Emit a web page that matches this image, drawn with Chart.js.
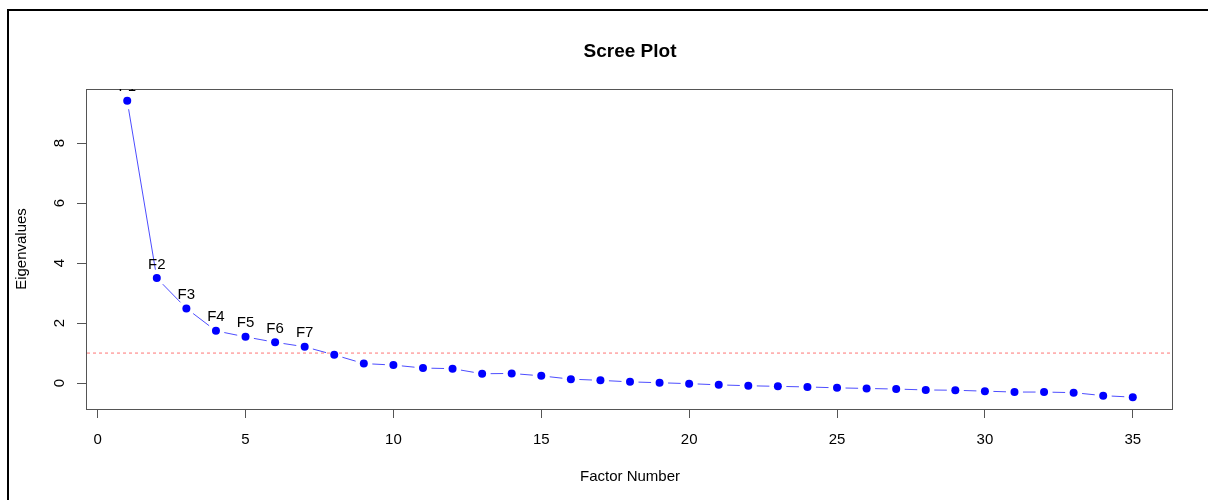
<!DOCTYPE html>
<html>
<head>
<meta charset="utf-8">
<title>Scree Plot</title>
<script src="https://cdn.jsdelivr.net/npm/chart.js@4.4.1/dist/chart.umd.min.js"></script>
<style>
  html, body { margin: 0; padding: 0; background: #fff; overflow: hidden; }
  #wrap { position: relative; width: 1208px; height: 500px; overflow: hidden; }
  #moldura { position: absolute; left: 7px; top: 9px; width: 1300px; height: 600px; border: 2px solid #000; }
  #grafico { position: absolute; left: 0; top: 0; }
</style>
</head>
<body>
<div id="wrap">
  <div id="moldura"></div>
  <canvas id="grafico" width="1208" height="500"></canvas>
</div>
<script>
const fatores = [1, 2, 3, 4, 5, 6, 7, 8, 9, 10, 11, 12, 13, 14, 15, 16, 17, 18,
  19, 20, 21, 22, 23, 24, 25, 26, 27, 28, 29, 30, 31, 32, 33, 34, 35];
const autovalores = [9.41, 3.50, 2.49, 1.74, 1.54, 1.36, 1.21, 0.94, 0.65, 0.60,
  0.50, 0.48, 0.31, 0.32, 0.24, 0.13, 0.09, 0.04, 0.01, -0.02, -0.06, -0.09,
  -0.11, -0.13, -0.16, -0.18, -0.20, -0.23, -0.24, -0.27, -0.30, -0.30, -0.32,
  -0.42, -0.47];
const rotulos = ["F1", "F2", "F3", "F4", "F5", "F6", "F7"];
const ticksX = [0, 5, 10, 15, 20, 25, 30, 35];
const ticksY = [0, 2, 4, 6, 8];
const linhaCorte = 1;
const titulo = "Scree Plot";

// limites como no R (faixa dos dados + 4%)
const faixaX = Math.max(...fatores) - Math.min(...fatores);
const xMin = Math.min(...fatores) - 0.04 * faixaX;
const xMax = Math.max(...fatores) + 0.04 * faixaX;
const faixaY = Math.max(...autovalores) - Math.min(...autovalores);
const yMin = Math.min(...autovalores) - 0.04 * faixaY;
const yMax = Math.max(...autovalores) + 0.04 * faixaY;

const fonte = "'Liberation Sans', Arial, sans-serif";
Chart.defaults.font.family = fonte;

const pluginCaixa = {
  id: "caixa",
  beforeDatasetsDraw(chart) {
    const { ctx, chartArea: a } = chart;
    ctx.save();
    ctx.strokeStyle = "#555";
    ctx.lineWidth = 1;
    ctx.strokeRect(Math.round(a.left) - 0.5, Math.round(a.top) + 0.5,
      Math.round(a.right - a.left), Math.round(a.bottom - a.top));
    ctx.restore();
  },
};

// título centrado na área do gráfico, como no R
const pluginTitulo = {
  id: "titulo",
  afterDraw(chart) {
    const { ctx, chartArea: a } = chart;
    ctx.save();
    ctx.fillStyle = "#000";
    ctx.font = "bold 19px " + fonte;
    ctx.textAlign = "center";
    ctx.textBaseline = "alphabetic";
    ctx.fillText(titulo, (a.left + a.right) / 2, a.top - 32);
    ctx.restore();
  },
};

// linhas com espaço em volta dos pontos (type = "b")
const pluginLinhas = {
  id: "linhas",
  beforeDatasetsDraw(chart) {
    const pts = chart.getDatasetMeta(0).data;
    const ctx = chart.ctx;
    const gap = 8.5;
    ctx.save();
    ctx.strokeStyle = "rgba(0,0,255,0.7)";
    ctx.lineWidth = 1;
    ctx.beginPath();
    for (let i = 0; i < pts.length - 1; i++) {
      const p = pts[i];
      const q = pts[i + 1];
      const dx = q.x - p.x;
      const dy = q.y - p.y;
      const len = Math.hypot(dx, dy);
      if (len <= 2 * gap) continue;
      const ux = dx / len;
      const uy = dy / len;
      ctx.moveTo(p.x + ux * gap, p.y + uy * gap);
      ctx.lineTo(q.x - ux * gap, q.y - uy * gap);
    }
    ctx.stroke();
    ctx.restore();
  },
};

const pluginRotulos = {
  id: "rotulos",
  afterDatasetsDraw(chart) {
    const pts = chart.getDatasetMeta(0).data;
    const { ctx, chartArea: a } = chart;
    ctx.save();
    ctx.beginPath();
    ctx.rect(a.left, a.top, a.right - a.left, a.bottom - a.top);
    ctx.clip();
    ctx.fillStyle = "#000";
    ctx.font = "15px " + fonte;
    ctx.textAlign = "center";
    ctx.textBaseline = "alphabetic";
    rotulos.forEach((r, i) => {
      ctx.fillText(r, pts[i].x, pts[i].y - 9.5);
    });
    ctx.restore();
  },
};

// rótulos do eixo y na vertical, como no R
const pluginTicksY = {
  id: "ticksY",
  afterDraw(chart) {
    const escala = chart.scales.y;
    const ctx = chart.ctx;
    const xBase = chart.chartArea.left - 23;
    ctx.save();
    ctx.fillStyle = "#000";
    ctx.font = "15px " + fonte;
    ctx.textAlign = "center";
    ctx.textBaseline = "alphabetic";
    ticksY.forEach((v) => {
      ctx.save();
      ctx.translate(xBase, escala.getPixelForValue(v));
      ctx.rotate(-Math.PI / 2);
      ctx.fillText(String(v), 0, 0);
      ctx.restore();
    });
    ctx.restore();
  },
};

new Chart(document.getElementById("grafico"), {
  type: "line",
  data: {
    datasets: [
      {
        label: "Eigenvalues",
        data: fatores.map((f, i) => ({ x: f, y: autovalores[i] })),
        showLine: false,
        pointRadius: 4,
        pointHoverRadius: 4,
        pointBorderWidth: 0,
        pointBackgroundColor: "#0000ff",
        borderColor: "#0000ff",
      },
      {
        label: "Corte",
        data: [
          { x: xMin, y: linhaCorte },
          { x: xMax, y: linhaCorte },
        ],
        borderColor: "rgba(255,60,60,0.7)",
        borderWidth: 1,
        borderDash: [3, 3],
        pointRadius: 0,
      },
    ],
  },
  options: {
    responsive: false,
    animation: false,
    layout: {
      padding: { left: 0, right: 35, top: 89, bottom: 0 },
    },
    plugins: {
      legend: { display: false },
      tooltip: { enabled: false },
      title: { display: false },
    },
    scales: {
      x: {
        type: "linear",
        min: xMin,
        max: xMax,
        afterBuildTicks: (s) => {
          s.ticks = ticksX.map((v) => ({ value: v }));
        },
        afterFit: (s) => {
          s.height = 91;
        },
        grid: {
          drawOnChartArea: false,
          drawTicks: true,
          tickLength: 9,
          color: "#555",
        },
        border: { display: false },
        ticks: {
          color: "#000",
          font: { size: 15 },
          padding: 13,
          maxRotation: 0,
          autoSkip: false,
        },
        title: {
          display: true,
          text: "Factor Number",
          color: "#000",
          font: { size: 15 },
          padding: { top: 0, bottom: 14 },
        },
      },
      y: {
        type: "linear",
        min: yMin,
        max: yMax,
        afterBuildTicks: (s) => {
          s.ticks = ticksY.map((v) => ({ value: v }));
        },
        afterFit: (s) => {
          s.width = 87;
        },
        grid: {
          drawOnChartArea: false,
          drawTicks: true,
          tickLength: 10,
          color: "#555",
        },
        border: { display: false },
        ticks: { display: false },
        title: {
          display: true,
          text: "Eigenvalues",
          color: "#000",
          font: { size: 15 },
          padding: { top: 13, bottom: 0 },
        },
      },
    },
  },
  plugins: [pluginCaixa, pluginLinhas, pluginRotulos, pluginTicksY, pluginTitulo],
});
</script>
</body>
</html>
